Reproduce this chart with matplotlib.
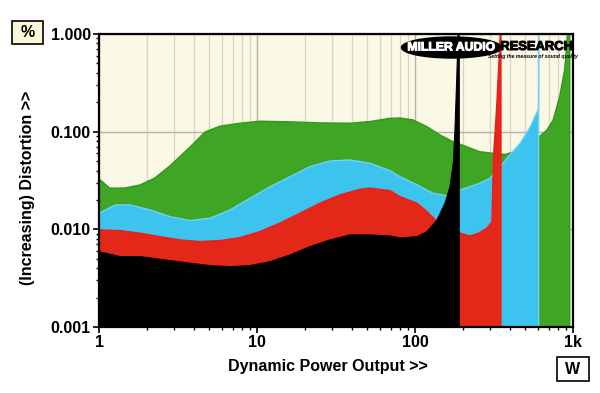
import matplotlib
matplotlib.use("Agg")
import matplotlib.pyplot as plt
import matplotlib.patheffects as pe
from matplotlib.patches import Ellipse, Rectangle
from matplotlib.ticker import FixedLocator, NullFormatter, LogLocator

plt.rcParams['font.family'] = ['Liberation Sans', 'DejaVu Sans']

# ---- data (power in W, distortion in %) ----
black_p = [1.0, 1.36, 1.82, 2.43, 3.77, 5.04, 6.75, 9.03, 12.1, 16.2, 21.6, 29.0, 38.8, 51.9,
           69.5, 80.4, 103, 119, 138, 155, 166.5, 174.8, 179, 183.6, 188, 190.6]
black_d = [0.00591, 0.00526, 0.00526, 0.00494, 0.00450, 0.00425, 0.00415, 0.00425, 0.00467,
           0.00547, 0.00665, 0.00779, 0.00877, 0.00877, 0.00855, 0.00816, 0.00842, 0.00947,
           0.0125, 0.0186, 0.0272, 0.0478, 0.104, 0.338, 1.2, 1.5]

red_p = [1.0, 1.36, 1.82, 2.43, 3.25, 4.36, 5.84, 7.8, 10.4, 13.9, 18.7, 25.0, 33.5, 44.8, 51.9,
         69.5, 80.4, 103, 119, 138, 160, 190, 222, 256, 285, 307, 314, 330, 343, 350]
red_d = [0.00986, 0.0097, 0.00912, 0.00842, 0.00779, 0.00749, 0.00767, 0.00822, 0.00947,
         0.01154, 0.01462, 0.0185, 0.0225, 0.0257, 0.0264, 0.0249, 0.0216, 0.0185, 0.0152,
         0.0120, 0.0103, 0.0092, 0.00855, 0.0092, 0.0103, 0.0119, 0.055, 0.2, 0.7, 1.5]

blue_p = [1.0, 1.26, 1.57, 2.10, 2.81, 3.77, 5.04, 6.75, 9.03, 12.1, 16.2, 21.6, 29.0, 38.8,
          51.9, 69.5, 80.4, 103, 130, 160, 193, 222, 256, 298, 347, 398, 463, 537, 600, 605, 606]
blue_d = [0.0146, 0.0177, 0.0178, 0.0158, 0.0135, 0.0123, 0.0130, 0.0158, 0.0208, 0.0273,
          0.0346, 0.0438, 0.0501, 0.0513, 0.0475, 0.0399, 0.0346, 0.0285, 0.0234, 0.0220,
          0.0253, 0.0273, 0.0296, 0.0333, 0.0438, 0.0578, 0.0761, 0.1125, 0.167, 0.175, 1.5]

green_p = [1.0, 1.17, 1.46, 1.82, 2.26, 2.81, 3.77, 4.69, 5.84, 7.8, 10.4, 16.2, 25.0, 38.8,
           51.9, 69.5, 80.4, 97, 119, 144, 174, 212, 256, 312, 371, 463, 537, 612, 684, 749,
           823, 885, 916, 930, 954]
green_d = [0.0328, 0.0264, 0.0265, 0.0285, 0.0336, 0.0446, 0.0697, 0.0993, 0.114, 0.122,
           0.128, 0.126, 0.123, 0.122, 0.127, 0.137, 0.138, 0.132, 0.1125, 0.0925, 0.079,
           0.0702, 0.0624, 0.0601, 0.0584, 0.065, 0.0766, 0.0889, 0.104, 0.132, 0.228, 0.428,
           0.809, 1.2, 1.5]

x_ticks = [1, 10, 100, 1000]
x_labels = ["1", "10", "100", "1k"]
y_ticks = [0.001, 0.01, 0.1, 1.0]
y_labels = ["0.001", "0.010", "0.100", "1.000"]

# ---- figure ----
W, H = 600, 393
fig = plt.figure(figsize=(6.0, 3.93), dpi=100)
ax = fig.add_axes([99 / W, 1 - 327 / H, (573 - 99) / W, (327 - 34) / H])
ax.set_facecolor('#fbf8e6')
ax.set_xscale('log')
ax.set_yscale('log')
ax.set_xlim(1, 1000)
ax.set_ylim(0.001, 1.0)

# grid
ax.xaxis.set_minor_locator(LogLocator(base=10, subs=range(2, 10)))
ax.yaxis.set_minor_locator(LogLocator(base=10, subs=range(2, 10)))
ax.grid(True, which='minor', axis='x', color='#d8d5c6', lw=0.9, zorder=0)
ax.grid(True, which='major', axis='x', color='#b4b3aa', lw=1.0, zorder=0)
ax.grid(True, which='major', axis='y', color='#b4b3aa', lw=1.0, zorder=0)
ax.set_axisbelow(True)

base = 1e-5
ax.fill_between(green_p, green_d, base, facecolor='#3fa524', edgecolor='#2f9a1c', lw=1.0, zorder=2)
ax.fill_between(blue_p, blue_d, base, facecolor='#3cc3ee', edgecolor='#6fd3f5', lw=1.0, zorder=3)
ax.fill_between(red_p, red_d, base, facecolor='#e32718', edgecolor='#f01c1c', lw=1.0, zorder=4)
ax.fill_between(black_p, black_d, base, facecolor='#000000', edgecolor='#000000', lw=0.8, zorder=5)

# ticks
ax.xaxis.set_major_locator(FixedLocator(x_ticks))
ax.set_xticklabels(x_labels)
ax.yaxis.set_major_locator(FixedLocator(y_ticks))
ax.set_yticklabels(y_labels)
ax.xaxis.set_minor_formatter(NullFormatter())
ax.yaxis.set_minor_formatter(NullFormatter())
ax.tick_params(which='major', length=4, width=1.2, color='black', direction='out', pad=2,
               labelsize=11.5)
ax.tick_params(which='minor', length=2.5, width=1.0, color='black', direction='out')
for lab in ax.get_xticklabels() + ax.get_yticklabels():
    lab.set_fontweight('bold')
for s in ax.spines.values():
    s.set_linewidth(1.6)
    s.set_color('black')
    s.set_zorder(10)

# axis labels
fig.text(328 / W, 1 - 367 / H, "Dynamic Power Output >>", ha='center', va='center',
         fontsize=11.5, fontweight='bold')
fig.text(28 / W, 1 - 188 / H, "(Increasing) Distortion >>", ha='center', va='center',
         rotation=90, fontsize=11.5, fontweight='bold')

# unit boxes
fig.patches.append(Rectangle((12 / W, 1 - 44 / H), 31 / W, 23 / H, transform=fig.transFigure,
                             facecolor='#fbf7d8', edgecolor='black', lw=1.2))
fig.text(27.5 / W, 1 - 32.5 / H, "%", ha='center', va='center', fontsize=11.5, fontweight='bold')
fig.patches.append(Rectangle((557 / W, 1 - 381 / H), 32 / W, 24 / H, transform=fig.transFigure,
                             facecolor='white', edgecolor='black', lw=1.2))
fig.text(573 / W, 1 - 369 / H, "W", ha='center', va='center', fontsize=11.5, fontweight='bold')

# logo
fig.patches.append(Ellipse((451.5 / W, 1 - 47.5 / H), 100 / W, 21 / H, transform=fig.transFigure,
                           facecolor='black', edgecolor='black', zorder=20))
fig.text(451.5 / W, 1 - 47.5 / H, "MILLER AUDIO", ha='center', va='center', fontsize=8.8,
         fontweight='bold', color='white', zorder=21,
         path_effects=[pe.withStroke(linewidth=0.7, foreground='white')])
fig.text(536.5 / W, 1 - 47 / H, "RESEARCH", ha='center', va='center', fontsize=9.3,
         fontweight='bold', color='black', zorder=21,
         path_effects=[pe.withStroke(linewidth=0.7, foreground='black')])
fig.text(533 / W, 1 - 56.5 / H, "Setting the measure of sound quality", ha='center', va='center',
         fontsize=3.7, fontweight='bold', style='italic', color='black', zorder=21)

fig.savefig("out.png", dpi=100, facecolor='white')
